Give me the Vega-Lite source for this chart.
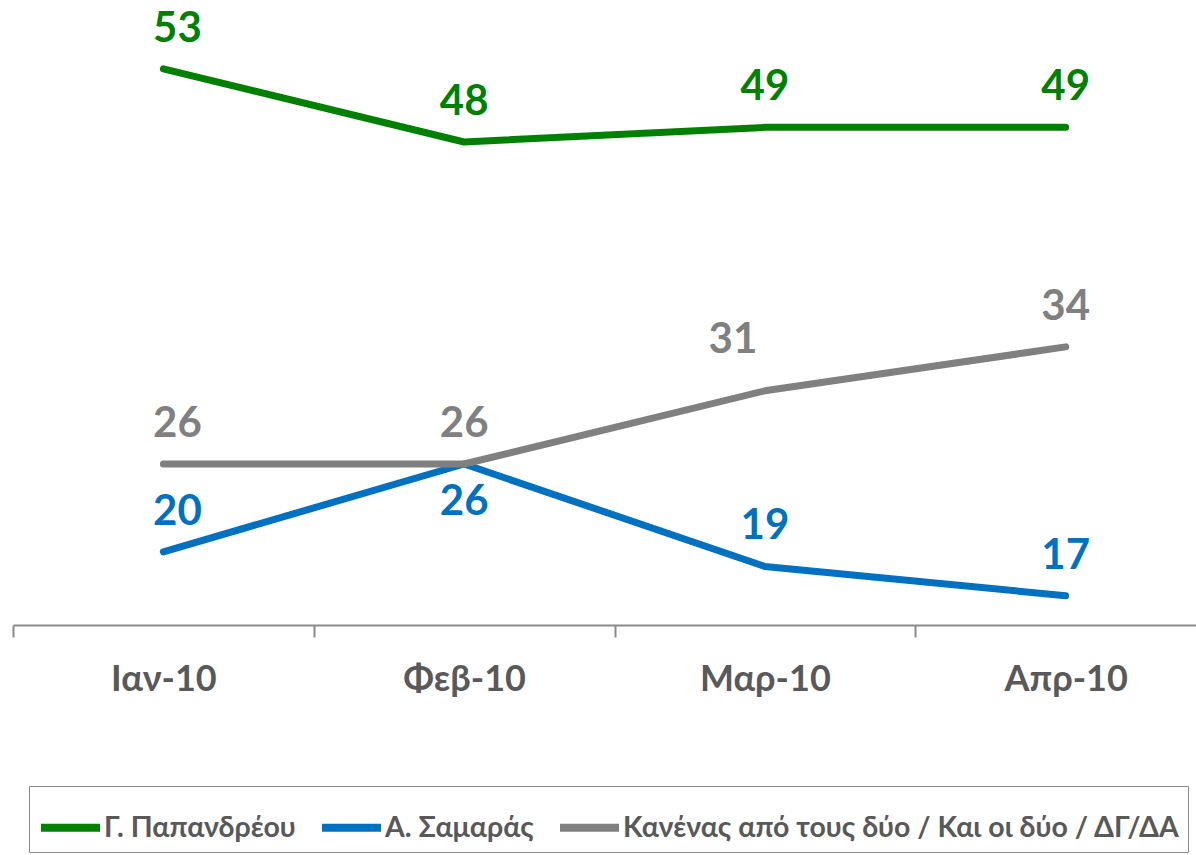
{
  "$schema": "https://vega.github.io/schema/vega-lite/v6.json",
  "width": 1183,
  "height": 625,
  "autosize": {"type": "none"},
  "padding": {"left": 13, "top": 0, "right": 0, "bottom": 230},
  "background": "white",
  "config": {"view": {"stroke": null}, "font": "Lato"},
  "data": {
    "values": [
      {"month": "Ιαν-10", "series": "Γ. Παπανδρέου", "value": 53},
      {"month": "Φεβ-10", "series": "Γ. Παπανδρέου", "value": 48},
      {"month": "Μαρ-10", "series": "Γ. Παπανδρέου", "value": 49},
      {"month": "Απρ-10", "series": "Γ. Παπανδρέου", "value": 49},
      {"month": "Ιαν-10", "series": "Α. Σαμαράς", "value": 20},
      {"month": "Φεβ-10", "series": "Α. Σαμαράς", "value": 26},
      {"month": "Μαρ-10", "series": "Α. Σαμαράς", "value": 19},
      {"month": "Απρ-10", "series": "Α. Σαμαράς", "value": 17},
      {"month": "Ιαν-10", "series": "Κανένας από τους δύο / Και οι δύο / ΔΓ/ΔΑ", "value": 26},
      {"month": "Φεβ-10", "series": "Κανένας από τους δύο / Και οι δύο / ΔΓ/ΔΑ", "value": 26},
      {"month": "Μαρ-10", "series": "Κανένας από τους δύο / Και οι δύο / ΔΓ/ΔΑ", "value": 31},
      {"month": "Απρ-10", "series": "Κανένας από τους δύο / Και οι δύο / ΔΓ/ΔΑ", "value": 34}
    ]
  },
  "encoding": {
    "x": {
      "field": "month",
      "type": "nominal",
      "sort": ["Ιαν-10", "Φεβ-10", "Μαρ-10", "Απρ-10"],
      "scale": {"range": [0, 1203], "paddingInner": 0, "paddingOuter": 0},
      "axis": {
        "title": null,
        "tickBand": "extent",
        "labelAngle": 0,
        "domainColor": "#8a8a8a",
        "domainWidth": 2,
        "tickColor": "#8a8a8a",
        "tickWidth": 2,
        "tickSize": 12,
        "labelFont": "Lato",
        "labelFontSize": 36,
        "labelFontWeight": "bold",
        "labelColor": "#595959",
        "labelPadding": 25,
        "grid": false
      }
    },
    "y": {
      "field": "value",
      "type": "quantitative",
      "scale": {"domain": [15, 57.7], "nice": false, "zero": false},
      "axis": null
    },
    "color": {
      "field": "series",
      "type": "nominal",
      "sort": ["Γ. Παπανδρέου", "Α. Σαμαράς", "Κανένας από τους δύο / Και οι δύο / ΔΓ/ΔΑ"],
      "scale": {
        "domain": ["Γ. Παπανδρέου", "Α. Σαμαράς", "Κανένας από τους δύο / Και οι δύο / ΔΓ/ΔΑ"],
        "range": ["#008000", "#0070C0", "#808080"]
      },
      "legend": {
        "orient": "none",
        "legendX": 16,
        "legendY": 786,
        "direction": "horizontal",
        "title": null,
        "strokeColor": "#8a8a8a",
        "fillColor": "white",
        "padding": 8,
        "labelFont": "Lato",
        "labelFontSize": 28.5,
        "labelFontWeight": "bold",
        "labelColor": "#595959",
        "labelLimit": 900,
        "symbolType": "stroke",
        "symbolSize": 3481,
        "symbolStrokeWidth": 8,
        "labelOffset": 0,
        "columnPadding": 10
      }
    }
  },
  "layer": [
    {
      "mark": {"type": "line", "strokeWidth": 7, "strokeCap": "round", "strokeJoin": "round"}
    },
    {
      "transform": [
        {"filter": "datum.month != 'Ιαν-10' && !(datum.month == 'Φεβ-10' && datum.series == 'Α. Σαμαράς') && !(datum.month == 'Μαρ-10' && datum.series != 'Γ. Παπανδρέου' && datum.series != 'Α. Σαμαράς')"}
      ],
      "mark": {"type": "text", "fontSize": 42, "fontWeight": "bold", "font": "Lato", "dy": -40, "baseline": "middle"},
      "encoding": {"text": {"field": "value", "type": "quantitative"}}
    },
    {
      "transform": [
        {"filter": "datum.month == 'Ιαν-10'"}
      ],
      "mark": {"type": "text", "fontSize": 42, "fontWeight": "bold", "font": "Lato", "dy": -40, "dx": 14, "baseline": "middle"},
      "encoding": {"text": {"field": "value", "type": "quantitative"}}
    },
    {
      "transform": [
        {"filter": "datum.month == 'Φεβ-10' && datum.series == 'Α. Σαμαράς'"}
      ],
      "mark": {"type": "text", "fontSize": 42, "fontWeight": "bold", "font": "Lato", "dy": 38, "baseline": "middle"},
      "encoding": {"text": {"field": "value", "type": "quantitative"}}
    },
    {
      "transform": [
        {"filter": "datum.month == 'Μαρ-10' && datum.series != 'Γ. Παπανδρέου' && datum.series != 'Α. Σαμαράς'"}
      ],
      "mark": {"type": "text", "fontSize": 42, "fontWeight": "bold", "font": "Lato", "dy": -51, "dx": -32, "baseline": "middle"},
      "encoding": {"text": {"field": "value", "type": "quantitative"}}
    }
  ]
}
